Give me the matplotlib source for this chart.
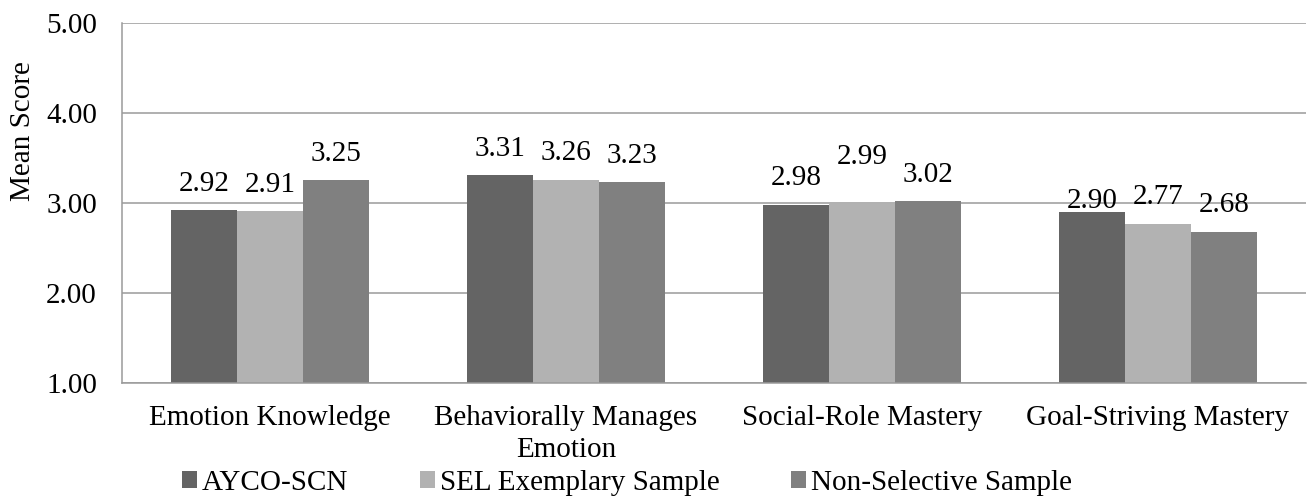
import numpy as np
import matplotlib.pyplot as plt

categories = ['Emotion Knowledge', 'Behaviorally Manages\nEmotion',
              'Social-Role Mastery', 'Goal-Striving Mastery']
series_names = ['AYCO-SCN', 'SEL Exemplary Sample', 'Non-Selective Sample']
ayco = [2.92, 3.31, 2.98, 2.90]
sel = [2.91, 3.26, 2.99, 2.77]
nonsel = [3.25, 3.23, 3.02, 2.68]

colors = ['#646464', '#b2b2b2', '#808080']
# extra vertical nudge (points) for labels Excel moved to avoid overlaps
nudges = [[0, 0, 0, -11], [0, 0, 15, 0], [0, 0, 0, 0]]

plt.rcParams['font.family'] = ['Liberation Serif', 'DejaVu Serif']
fs = 21

fig = plt.figure(figsize=(13.07, 4.98), dpi=100)
ax = fig.add_axes([122 / 1307, 115 / 498, 1184 / 1307, 360 / 498])

x = np.arange(len(categories))
w = 0.223
grid_col = '#9a9a9a'

ax.set_axisbelow(True)
ax.yaxis.grid(True, color=grid_col, linewidth=1.1)

for i, vals in enumerate([ayco, sel, nonsel]):
    bars = ax.bar(x + (i - 1) * w, vals, w, bottom=0, color=colors[i],
                  label=series_names[i], zorder=2)
    for j, b in enumerate(bars):
        ax.annotate('%.2f' % vals[j], (b.get_x() + b.get_width() / 2, vals[j]),
                    xytext=(0, 19 + nudges[i][j]), textcoords='offset points',
                    ha='center', va='center', fontsize=fs, zorder=3)

ax.set_ylim(1, 5)
ax.set_xlim(-0.5, 3.5)
ax.set_yticks([1, 2, 3, 4, 5])
ax.set_yticklabels(['%.2f' % v for v in [1, 2, 3, 4, 5]])
ax.set_xticks(x)
ax.set_xticklabels(categories, linespacing=1.3)
ax.tick_params(axis='y', length=0, pad=18, labelsize=fs)
ax.tick_params(axis='x', length=0, pad=16, labelsize=fs)

for s in ['top', 'right']:
    ax.spines[s].set_visible(False)
ax.spines['left'].set_color(grid_col)
ax.spines['bottom'].set_color(grid_col)
ax.spines['left'].set_linewidth(1.1)
ax.spines['bottom'].set_linewidth(1.1)

fig.text(23 / 1307, 1 - 131 / 498, 'Mean Score', rotation=90,
         ha='center', va='center', fontsize=fs)

fig.legend(loc='center', bbox_to_anchor=(627 / 1307, 1 - 483 / 498), ncol=3,
           frameon=False, fontsize=fs, handlelength=0.52, handleheight=0.52,
           handletextpad=0.17, columnspacing=2.45, borderpad=0, borderaxespad=0)

fig.savefig('out.png', dpi=100)
